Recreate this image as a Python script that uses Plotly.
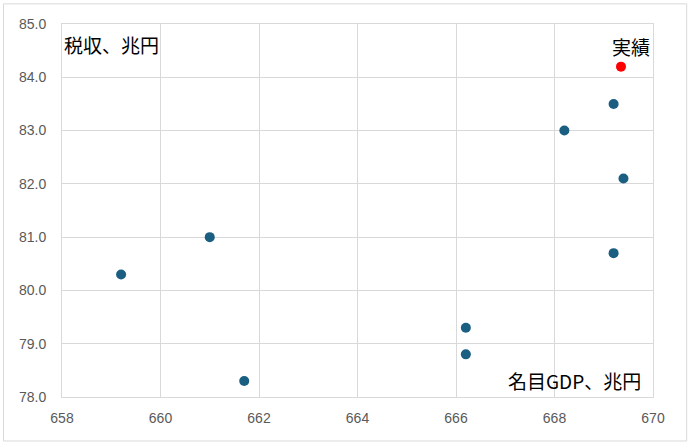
import plotly.graph_objects as go

# 名目GDP (兆円) と 税収 (兆円)
gdp = [659.2, 661.0, 661.7, 666.2, 666.2, 668.2, 669.2, 669.4, 669.2]
tax = [80.3, 81.0, 78.3, 79.3, 78.8, 83.0, 83.5, 82.1, 80.7]

# 実績
actual_gdp = [669.35]
actual_tax = [84.2]

x_ticks = [658, 660, 662, 664, 666, 668, 670]
y_ticks = [78, 79, 80, 81, 82, 83, 84, 85]

jp_font = "Noto Sans CJK JP"

fig = go.Figure()
fig.add_trace(go.Scatter(x=gdp, y=tax, mode='markers',
                         marker=dict(size=10, color='#1a5e82'), showlegend=False))
fig.add_trace(go.Scatter(x=actual_gdp, y=actual_tax, mode='markers',
                         marker=dict(size=10, color='#ff0000'), showlegend=False))

grid = '#d9d9d9'
tick_font = dict(family='Liberation Sans', size=14, color='#595959')
fig.update_xaxes(range=[658, 670], tickvals=x_ticks, ticktext=[str(v) for v in x_ticks],
                 showgrid=True, gridcolor=grid, gridwidth=1,
                 showline=True, linecolor=grid, mirror=True, zeroline=False,
                 ticks='', ticklabelstandoff=8, tickfont=tick_font)
fig.update_yaxes(range=[78, 85], tickvals=y_ticks, ticktext=[f"{v:.1f}" for v in y_ticks],
                 showgrid=True, gridcolor=grid, gridwidth=1,
                 showline=True, linecolor=grid, mirror=True, zeroline=False,
                 ticks='', ticklabelstandoff=12, tickfont=tick_font)

fig.add_annotation(text="税収、兆円", xref='paper', yref='paper', x=0.0, y=0.946,
                   xanchor='left', yanchor='middle', showarrow=False,
                   font=dict(family=jp_font, size=19, color='#000000'))
fig.add_annotation(text="名目GDP、兆円", xref='paper', yref='paper', x=0.983, y=0.043,
                   xanchor='right', yanchor='middle', showarrow=False,
                   font=dict(family=jp_font, size=19, color='#000000'))
fig.add_annotation(text="実績", xref='paper', yref='paper', x=0.998, y=0.941,
                   xanchor='right', yanchor='middle', showarrow=False,
                   font=dict(family=jp_font, size=19, color='#000000'))

# 外枠
fig.add_shape(type='rect', xref='paper', yref='paper',
              x0=-0.099, x1=1.057, y0=-0.118, y1=1.054,
              line=dict(color='#d9d9d9', width=1))

fig.update_layout(width=690, height=446,
                  margin=dict(l=62, r=37, t=24, b=49),
                  plot_bgcolor='white', paper_bgcolor='white')

fig.write_html("out.html", config={'displayModeBar': False},
               post_script="document.body.style.margin='0';")
